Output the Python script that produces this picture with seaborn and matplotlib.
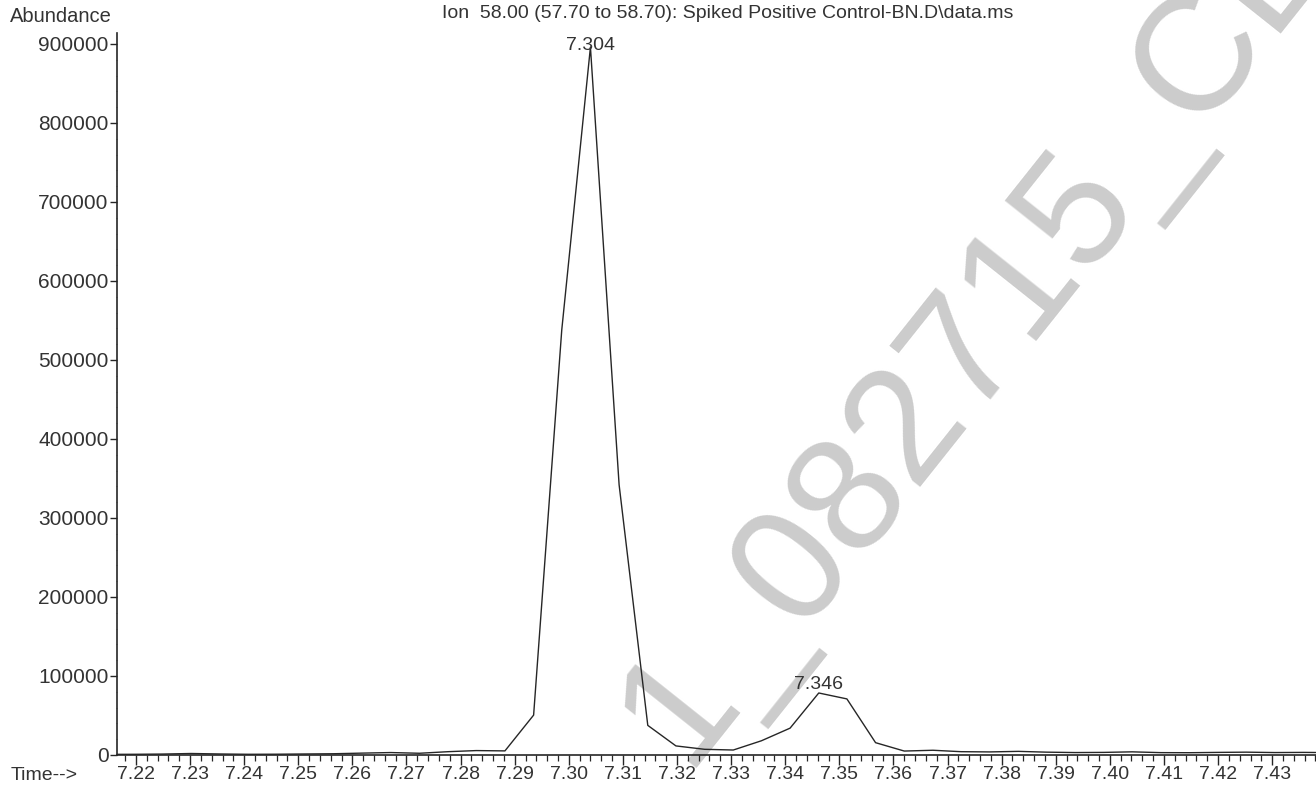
import matplotlib
matplotlib.use("Agg")
import matplotlib.pyplot as plt
from matplotlib.ticker import MultipleLocator, FormatStrFormatter
import seaborn as sns
import pandas as pd

# Extracted ion chromatogram, m/z 58 window
times = [7.2144, 7.2197, 7.2250, 7.2302, 7.2355, 7.2408, 7.2460, 7.2513,
         7.2566, 7.2619, 7.2671, 7.2724, 7.2777, 7.2829, 7.2882, 7.2935,
         7.2987, 7.3040, 7.3093, 7.3146, 7.3198, 7.3251, 7.3304, 7.3356,
         7.3409, 7.3462, 7.3514, 7.3567, 7.3620, 7.3673, 7.3725, 7.3778,
         7.3831, 7.3883, 7.3936, 7.3989, 7.4041, 7.4094, 7.4147, 7.4200,
         7.4252, 7.4305, 7.4358, 7.4410]
abundance = [800, 900, 1200, 1900, 1300, 900, 1000, 1300,
             1600, 2400, 3100, 2200, 4200, 5600, 5200, 50500,
             538000, 896000, 342000, 37500, 11500, 7200, 6300, 18000,
             34000, 78500, 71000, 15600, 5000, 6000, 4200, 3900,
             4600, 3600, 3100, 3300, 4000, 3000, 2900, 3300,
             3600, 3100, 3300, 3000]
peak_index = [17, 25]
y_ticks = [0, 100000, 200000, 300000, 400000, 500000, 600000, 700000, 800000, 900000]
title_text = "Ion  58.00 (57.70 to 58.70): Spiked Positive Control-BN.D\\data.ms"
watermark_text = "1_082715_CL"

sns.set_theme(style="white")
plt.rcParams["font.family"] = ["Liberation Sans", "DejaVu Sans"]

ink = "#262626"
text_col = "#333333"

W, H = 1316, 785
fig = plt.figure(figsize=(W / 100, H / 100), dpi=100)
fig.patch.set_facecolor("white")

ax_left, ax_right, ax_bottom, ax_top = 117, 1316, 755, 33
ax = fig.add_axes([ax_left / W, 1 - ax_bottom / H,
                   (ax_right - ax_left) / W, (ax_bottom - ax_top) / H])
ax.set_facecolor("none")
ax.set_zorder(2)

df = pd.DataFrame({"time": times, "abundance": abundance})
sns.lineplot(data=df, x="time", y="abundance", ax=ax, color=ink,
             linewidth=1.0, zorder=3)

ax.set_xlim(7.2165, 7.4381)
ax.set_ylim(0, 913900)

# axes frame: only left and bottom lines
for s in ["top", "right"]:
    ax.spines[s].set_visible(False)
for s in ["left", "bottom"]:
    ax.spines[s].set_color(ink)
    ax.spines[s].set_linewidth(1.2)

ax.xaxis.set_major_locator(MultipleLocator(0.01))
ax.xaxis.set_minor_locator(MultipleLocator(0.002))
ax.xaxis.set_major_formatter(FormatStrFormatter("%.2f"))
ax.set_yticks(y_ticks)
ax.set_yticklabels([str(v) for v in y_ticks])
ax.yaxis.set_minor_locator(MultipleLocator(20000))

ax.tick_params(axis="x", which="major", direction="out", length=7.5, width=1.0,
               color=ink, pad=0.5, labelsize=14, labelcolor=text_col,
               bottom=True)
ax.tick_params(axis="x", which="minor", direction="out", length=4, width=0.9,
               color=ink, bottom=True)
ax.tick_params(axis="y", which="major", direction="out", length=5, width=1.0,
               color=ink, pad=1.0, labelsize=15, labelcolor=text_col,
               left=True)
ax.tick_params(axis="y", which="minor", direction="out", length=0.8, width=0.6,
               color="#777777", left=True)
ax.set_xlabel("")
ax.set_ylabel("")
ax.grid(False)

# retention-time labels above the peaks
ymax = ax.get_ylim()[1]
for i in peak_index:
    t, a = times[i], abundance[i]
    dy = -2 if a > 0.95 * ymax else 3
    ax.annotate(f"{t:.3f}", xy=(t, a), xytext=(0, dy), textcoords="offset points",
                ha="center", va="baseline", fontsize=14, color=text_col,
                zorder=4)

# header and axis captions
fig.text(442 / W, 1 - 13 / H, title_text, ha="left", va="center",
         fontsize=14, color=text_col)
fig.text(10 / W, 1 - 17 / H, "Abundance", ha="left", va="center",
         fontsize=14.5, color=text_col)
fig.text(11 / W, 1 - 775 / H, "Time-->", ha="left", va="center",
         fontsize=14, color=text_col)

# diagonal document watermark, drawn beneath the trace
fig.text(684 / W, 1 - 768 / H, watermark_text, rotation=51.5,
         rotation_mode="anchor", ha="left", va="baseline", fontsize=118,
         color="#cccccc", zorder=0)

fig.savefig("out.png", dpi=100, facecolor="white")
